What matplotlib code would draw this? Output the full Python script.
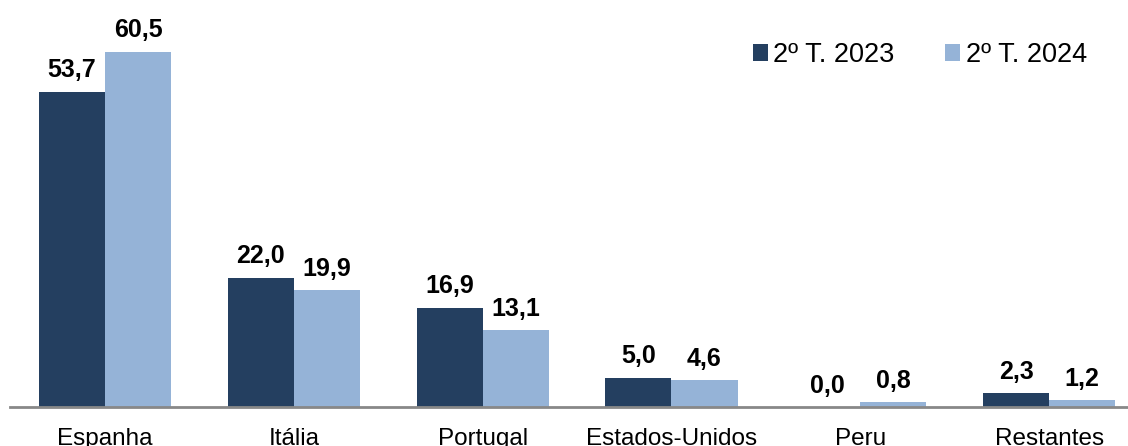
import matplotlib.pyplot as plt
import numpy as np

plt.rcParams['font.family'] = ['Liberation Sans', 'DejaVu Sans']

categories = ['Espanha', 'Itália', 'Portugal', 'Estados-Unidos', 'Peru', 'Restantes']
t2023 = [53.7, 22.0, 16.9, 5.0, 0.0, 2.3]
t2024 = [60.5, 19.9, 13.1, 4.6, 0.8, 1.2]
series_names = ['2º T. 2023', '2º T. 2024']

dark = '#243F60'
light = '#95B3D7'

fig = plt.figure(figsize=(11.28, 4.46), dpi=100)
ax = fig.add_axes([10 / 1128, 39 / 446, 1118 / 1128, 407 / 446])

x = np.arange(len(categories))
w = 0.35
b1 = ax.bar(x - w / 2, t2023, w, color=dark, label=series_names[0])
b2 = ax.bar(x + w / 2, t2024, w, color=light, label=series_names[1])

for bars, vals in ((b1, t2023), (b2, t2024)):
    for r, v in zip(bars, vals):
        ax.text(r.get_x() + r.get_width() / 2, v + 1.6, f'{v:.1f}'.replace('.', ','),
                ha='center', va='bottom', fontsize=18, fontweight='bold')

ax.set_xlim(-0.503, 5.418)
ax.set_ylim(0, 69.3)
ax.set_xticks(x)
ax.set_xticklabels(categories, fontsize=17.5)
ax.tick_params(axis='x', length=0, pad=15)
ax.set_yticks([])
for s in ['top', 'right', 'left']:
    ax.spines[s].set_visible(False)
ax.spines['bottom'].set_color('#888888')
ax.spines['bottom'].set_linewidth(2)

ax.legend(loc='center right', bbox_to_anchor=(0.963, 0.865), ncol=2, frameon=False,
          fontsize=19.5, handlelength=0.55, handleheight=0.55, handletextpad=0.2,
          columnspacing=1.87, borderpad=0, borderaxespad=0)

fig.savefig('out.png', dpi=100)
